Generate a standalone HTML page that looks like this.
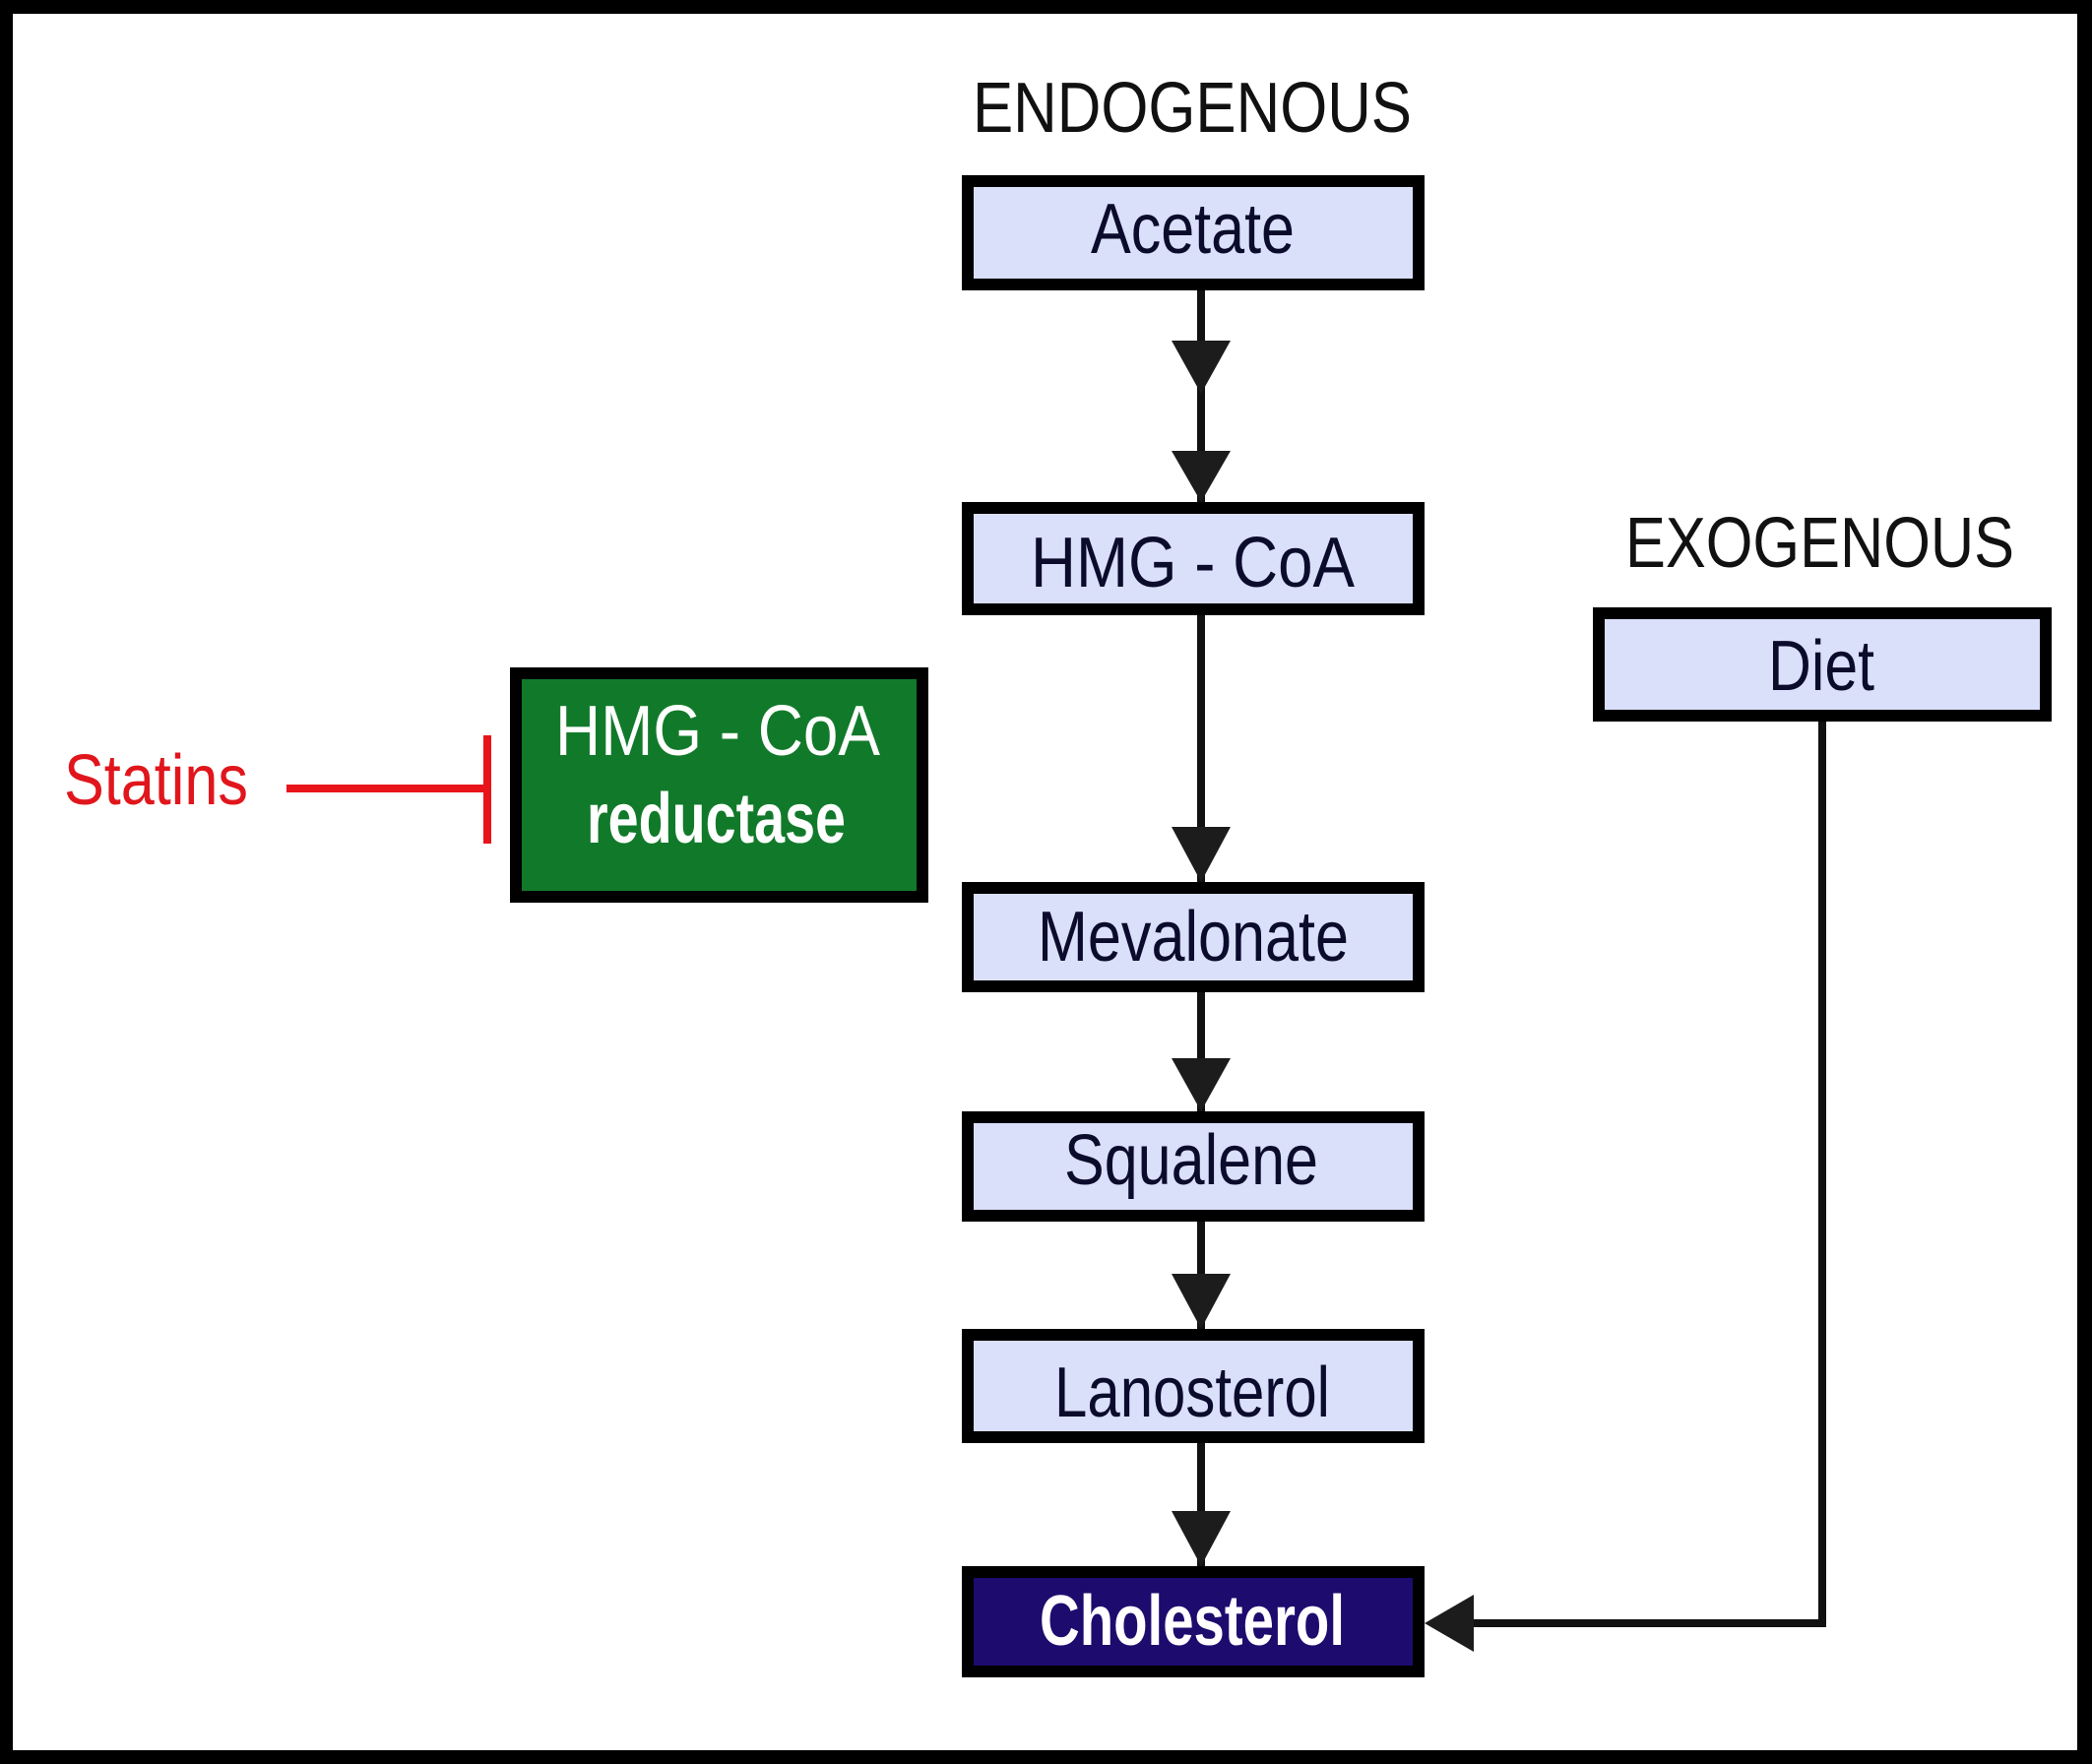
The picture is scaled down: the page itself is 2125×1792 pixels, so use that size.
<!DOCTYPE html>
<html><head><meta charset="utf-8"><style>
html,body{margin:0;padding:0;background:#fff}
svg{display:block}
text{font-family:"Liberation Sans",sans-serif}
</style></head><body>
<svg width="2125" height="1792" viewBox="0 0 2125 1792" xmlns="http://www.w3.org/2000/svg">
<rect x="0" y="0" width="2125" height="1792" fill="#000"/>
<rect x="13" y="14" width="2097" height="1764" fill="#fff"/>
<g stroke="#111" stroke-width="8" fill="none">
<line x1="1220" y1="295" x2="1220" y2="510"/>
<line x1="1220" y1="625" x2="1220" y2="896"/>
<line x1="1220" y1="1008" x2="1220" y2="1129"/>
<line x1="1220" y1="1241" x2="1220" y2="1350"/>
<line x1="1220" y1="1466" x2="1220" y2="1591"/>
<polyline points="1851,733 1851,1649 1490,1649"/>
</g>
<g fill="#1c1c1c">
<polygon points="1190,346 1250,346 1220,400"/>
<polygon points="1190,458 1250,458 1220,510"/>
<polygon points="1190,840 1250,840 1220,896"/>
<polygon points="1190,1075 1250,1075 1220,1129"/>
<polygon points="1190,1294 1250,1294 1220,1350"/>
<polygon points="1190,1535 1250,1535 1220,1591"/>
<polygon points="1447,1649 1497,1620 1497,1678"/>
</g>
<g stroke="#000" stroke-width="12" fill="#dadffa">
<rect x="983" y="184" width="458" height="105"/>
<rect x="983" y="516" width="458" height="103"/>
<rect x="983" y="902" width="458" height="100"/>
<rect x="983" y="1135" width="458" height="100"/>
<rect x="983" y="1356" width="458" height="104"/>
<rect x="1624" y="623" width="454" height="104"/>
<rect x="983" y="1597" width="458" height="101" fill="#1e0b6e"/>
<rect x="524" y="684" width="413" height="227" fill="#117a2a"/>
</g>
<g fill="#0b0b2b" font-size="72">
<text x="988" y="134" textLength="446" lengthAdjust="spacingAndGlyphs" fill="#111">ENDOGENOUS</text>
<text x="1651" y="576" textLength="395" lengthAdjust="spacingAndGlyphs" fill="#111">EXOGENOUS</text>
<text x="1108" y="257" textLength="207" lengthAdjust="spacingAndGlyphs">Acetate</text>
<text x="1047" y="596" textLength="329" lengthAdjust="spacingAndGlyphs">HMG - CoA</text>
<text x="1054" y="976" textLength="316" lengthAdjust="spacingAndGlyphs">Mevalonate</text>
<text x="1081" y="1203" textLength="258" lengthAdjust="spacingAndGlyphs">Squalene</text>
<text x="1071" y="1439" textLength="280" lengthAdjust="spacingAndGlyphs">Lanosterol</text>
<text x="1796" y="701" textLength="108" lengthAdjust="spacingAndGlyphs">Diet</text>
<text x="1056" y="1671" textLength="310" lengthAdjust="spacingAndGlyphs" fill="#fff" font-weight="bold">Cholesterol</text>
<text x="564" y="767" textLength="330" lengthAdjust="spacingAndGlyphs" fill="#fff">HMG - CoA</text>
<text x="596" y="856" textLength="263" lengthAdjust="spacingAndGlyphs" fill="#fff" font-weight="bold">reductase</text>
<text x="65" y="817" textLength="187" lengthAdjust="spacingAndGlyphs" fill="#e0161c">Statins</text>
</g>
<g stroke="#e8141a" stroke-width="8">
<line x1="291" y1="801" x2="495" y2="801"/>
<line x1="495" y1="747" x2="495" y2="857"/>
</g>
</svg>
</body></html>
